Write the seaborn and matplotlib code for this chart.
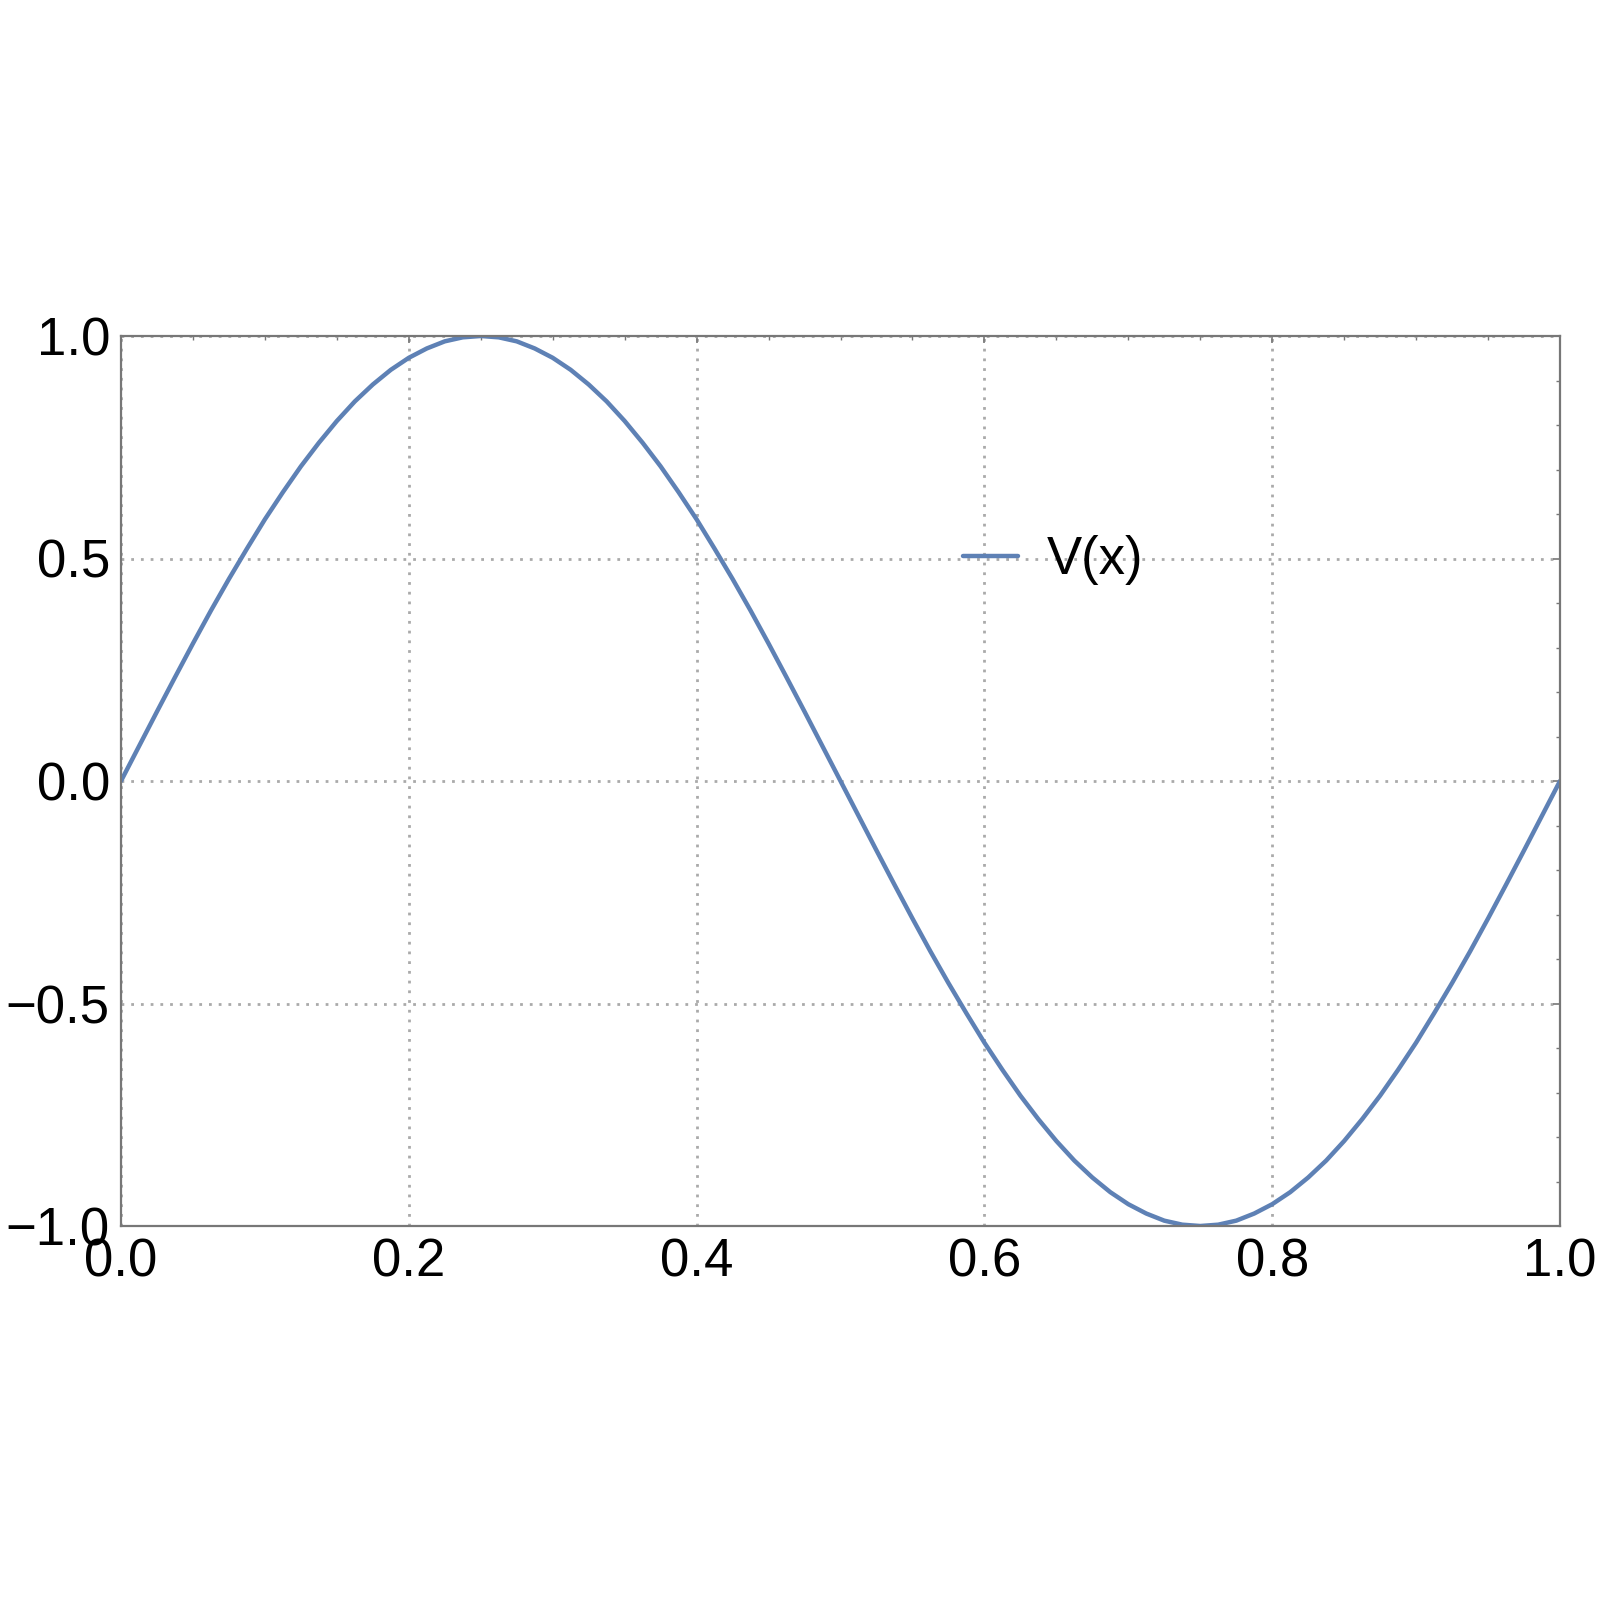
import numpy as np
import pandas as pd
import matplotlib
matplotlib.use("Agg")
import matplotlib.pyplot as plt
from matplotlib.ticker import MultipleLocator
import seaborn as sns

# === valori ===
x_vals = [0.0000, 0.0125, 0.0250, 0.0375, 0.0500, 0.0625, 0.0750, 0.0875, 0.1000, 0.1125,
          0.1250, 0.1375, 0.1500, 0.1625, 0.1750, 0.1875, 0.2000, 0.2125, 0.2250, 0.2375,
          0.2500, 0.2625, 0.2750, 0.2875, 0.3000, 0.3125, 0.3250, 0.3375, 0.3500, 0.3625,
          0.3750, 0.3875, 0.4000, 0.4125, 0.4250, 0.4375, 0.4500, 0.4625, 0.4750, 0.4875,
          0.5000, 0.5125, 0.5250, 0.5375, 0.5500, 0.5625, 0.5750, 0.5875, 0.6000, 0.6125,
          0.6250, 0.6375, 0.6500, 0.6625, 0.6750, 0.6875, 0.7000, 0.7125, 0.7250, 0.7375,
          0.7500, 0.7625, 0.7750, 0.7875, 0.8000, 0.8125, 0.8250, 0.8375, 0.8500, 0.8625,
          0.8750, 0.8875, 0.9000, 0.9125, 0.9250, 0.9375, 0.9500, 0.9625, 0.9750, 0.9875,
          1.0000]
v_vals = [0.000, 0.078, 0.156, 0.233, 0.309, 0.383, 0.454, 0.522, 0.588, 0.649,
          0.707, 0.760, 0.809, 0.853, 0.891, 0.924, 0.951, 0.972, 0.988, 0.997,
          1.000, 0.997, 0.988, 0.972, 0.951, 0.924, 0.891, 0.853, 0.809, 0.760,
          0.707, 0.649, 0.588, 0.522, 0.454, 0.383, 0.309, 0.233, 0.156, 0.078,
          0.000, -0.078, -0.156, -0.233, -0.309, -0.383, -0.454, -0.522, -0.588, -0.649,
          -0.707, -0.760, -0.809, -0.853, -0.891, -0.924, -0.951, -0.972, -0.988, -0.997,
          -1.000, -0.997, -0.988, -0.972, -0.951, -0.924, -0.891, -0.853, -0.809, -0.760,
          -0.707, -0.649, -0.588, -0.522, -0.454, -0.383, -0.309, -0.233, -0.156, -0.078,
          0.000]
series_label = "V(x)"
x_ticks = [0.0, 0.2, 0.4, 0.6, 0.8, 1.0]
y_ticks = [-1.0, -0.5, 0.0, 0.5, 1.0]

df = pd.DataFrame({"x": x_vals, "V": v_vals})

sns.set_style("white")
plt.rcParams['font.family'] = ['Liberation Sans', 'DejaVu Sans']

fig = plt.figure(figsize=(16, 16.03), dpi=100)
ax = fig.add_axes([121 / 1600, 1 - 1226 / 1603, 1439 / 1600, 890 / 1603])

sns.lineplot(data=df, x="x", y="V", ax=ax, color="#5E81B5", linewidth=3.2,
             label=series_label)

ax.set_xlim(0, 1)
ax.set_ylim(-1, 1)
ax.set_xticks(x_ticks)
ax.set_yticks(y_ticks)
ax.xaxis.set_minor_locator(MultipleLocator(0.05))
ax.yaxis.set_minor_locator(MultipleLocator(0.1))
ax.set_xlabel("")
ax.set_ylabel("")

ax.grid(True, which="major", color="#aaaaaa", linestyle=(0, (1, 2.5)), linewidth=2.0)
ax.set_axisbelow(True)

for s in ax.spines.values():
    s.set_color("#777777")
    s.set_linewidth(1.6)

ax.tick_params(which="both", direction="in", top=True, right=True,
               colors="#777777", labelcolor="black", labelsize=38)
ax.tick_params(which="major", length=5, width=1.2, pad=8)
ax.tick_params(which="minor", length=3, width=1.0)

leg = ax.legend(loc="center left", bbox_to_anchor=(0.585, 0.748), frameon=False,
                fontsize=38, handlelength=1.05, handletextpad=0.55, borderpad=0,
                borderaxespad=0, labelcolor="black")

fig.savefig("out.png", dpi=100, facecolor="white")
